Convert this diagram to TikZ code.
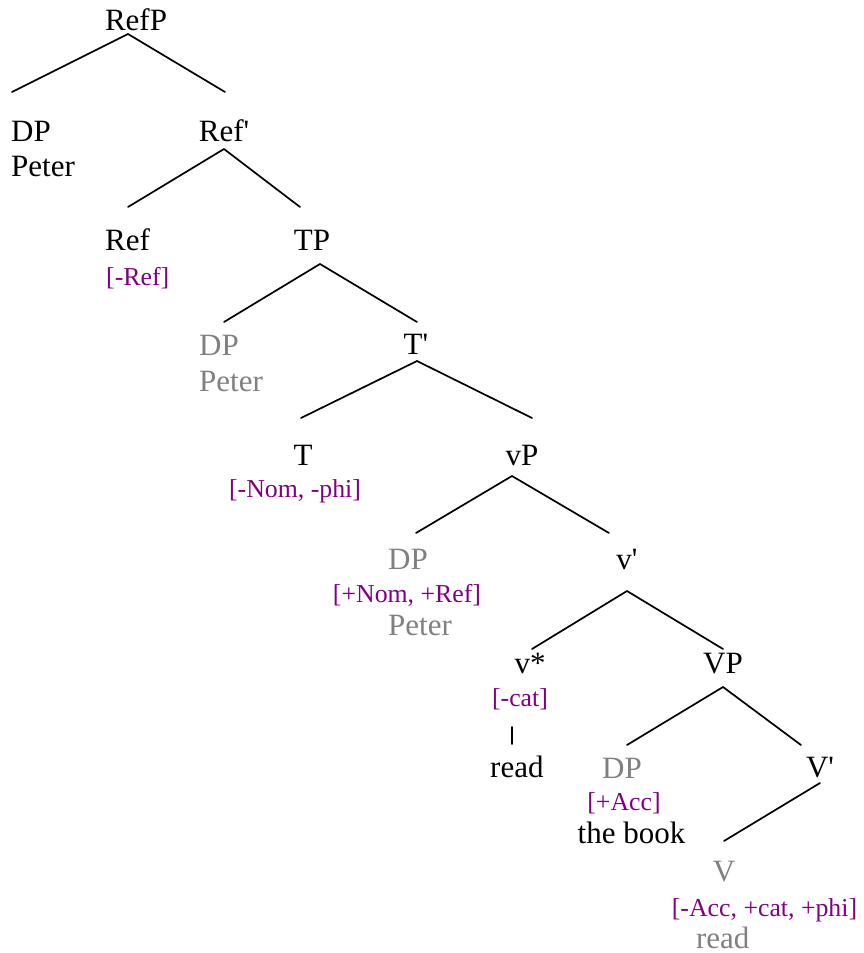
\documentclass[tikz,border=0pt]{standalone}
\usepackage{fontspec}
\setmainfont{Liberation Serif}
\definecolor{feat}{RGB}{128,0,128}
\definecolor{trace}{RGB}{128,128,128}
\tikzset{
  lbl/.style={inner sep=0pt, anchor=base, font=\fontsize{31}{35}\selectfont, text=black},
  ftr/.style={inner sep=0pt, anchor=base, font=\fontsize{25.8}{30}\selectfont, text=feat},
  grey/.style={text=trace},
  branch/.style={line width=1.7pt, line cap=round}
}
\begin{document}
\begin{tikzpicture}[x=1pt,y=-1pt]
\useasboundingbox (0,0) rectangle (864,953);
% labels
\node[lbl] (RefP) at (136,30.7) {RefP};
\node[lbl, anchor=base west] (DPa) at (11,141.7) {DP};
\node[lbl, anchor=base west] (Petera) at (11,176.7) {Peter};
\node[lbl] (Refbar) at (224,141) {Ref\textquotesingle};
\node[lbl, anchor=base west] (Ref) at (105,250.7) {Ref};
\node[ftr, anchor=base west] (RefF) at (106,285.7) {[-Ref]};
\node[lbl] (TP) at (312,250.7) {TP};
\node[lbl, grey, anchor=base west] (DPb) at (199,355) {DP};
\node[lbl, grey, anchor=base west] (Peterb) at (199,391) {Peter};
\node[lbl] (Tbar) at (416,354) {T\textquotesingle};
\node[lbl] (T) at (303,465.7) {T};
\node[ftr] (TF) at (295,497) {[-Nom, -phi]};
\node[lbl] (vP) at (522,465) {vP};
\node[lbl, grey] (DPc) at (408,569) {DP};
\node[ftr] (DPcF) at (407,602) {[+Nom, +Ref]};
\node[lbl, grey, anchor=base west] (Peterc) at (388,635) {Peter};
\node[lbl] (vbar) at (627,569) {v\textquotesingle};
\node[lbl] (vstar) at (530,673) {v*};
\node[ftr] (vF) at (520,706) {[-cat]};
\node[lbl, anchor=base west] (reada) at (490,777) {read};
\node[lbl] (VP) at (723,673) {VP};
\node[lbl, grey] (DPd) at (622,778) {DP};
\node[ftr] (DPdF) at (624,810.5) {[+Acc]};
\node[lbl] (book) at (631.5,843) {the book};
\node[lbl] (Vbar) at (820,777) {V\textquotesingle};
\node[lbl, grey] (V) at (724,881.7) {V};
\node[ftr] (VF) at (764.5,916.5) {[-Acc, +cat, +phi]};
\node[lbl, grey] (readb) at (722.7,948) {read};
% branch points
\coordinate (RefP-d) at (128,34);
\coordinate (DPa-u) at (12,92);
\coordinate (Refbar-u) at (225,92);
\coordinate (Refbar-d) at (224,149);
\coordinate (Ref-u) at (128,207);
\coordinate (TP-u) at (300,207);
\coordinate (TP-d) at (320,264);
\coordinate (DPb-u) at (224,322);
\coordinate (Tbar-u) at (417,322);
\coordinate (Tbar-d) at (417,361);
\coordinate (T-u) at (301,418);
\coordinate (vP-u) at (532,418);
\coordinate (vP-d) at (512,476);
\coordinate (DPc-u) at (416,533);
\coordinate (vbar-u) at (609,533);
\coordinate (vbar-d) at (627,591);
\coordinate (vstar-u) at (532,649);
\coordinate (VP-u) at (723,649);
\coordinate (VP-d) at (723,687);
\coordinate (DPd-u) at (627,745);
\coordinate (Vbar-u) at (801,745);
\coordinate (Vbar-d) at (820,783);
\coordinate (V-u) at (724,841);
\coordinate (vF-d) at (512,727);
\coordinate (reada-u) at (512,744);
% branches
\draw[branch] (RefP-d) -- (DPa-u);
\draw[branch] (RefP-d) -- (Refbar-u);
\draw[branch] (Refbar-d) -- (Ref-u);
\draw[branch] (Refbar-d) -- (TP-u);
\draw[branch] (TP-d) -- (DPb-u);
\draw[branch] (TP-d) -- (Tbar-u);
\draw[branch] (Tbar-d) -- (T-u);
\draw[branch] (Tbar-d) -- (vP-u);
\draw[branch] (vP-d) -- (DPc-u);
\draw[branch] (vP-d) -- (vbar-u);
\draw[branch] (vbar-d) -- (vstar-u);
\draw[branch] (vbar-d) -- (VP-u);
\draw[branch] (VP-d) -- (DPd-u);
\draw[branch] (VP-d) -- (Vbar-u);
\draw[branch] (Vbar-d) -- (V-u);
\draw[branch] (vF-d) -- (reada-u);
\end{tikzpicture}
\end{document}
